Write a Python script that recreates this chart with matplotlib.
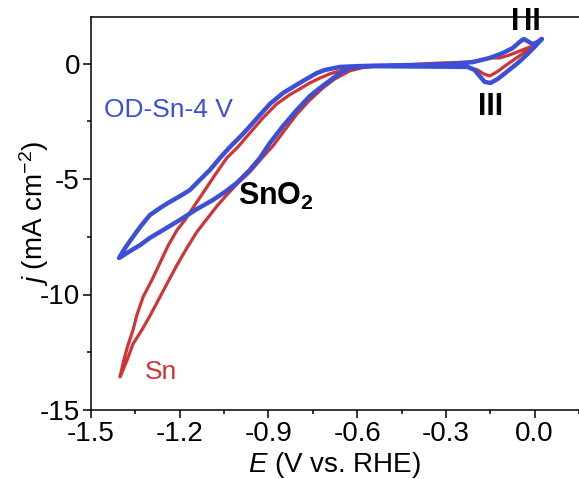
import matplotlib
matplotlib.use("Agg")
import matplotlib.pyplot as plt
from matplotlib.ticker import MultipleLocator, FormatStrFormatter

plt.rcParams['font.family'] = ['Liberation Sans', 'DejaVu Sans']
plt.rcParams['mathtext.fontset'] = 'custom'
plt.rcParams['mathtext.rm'] = 'Liberation Sans'
plt.rcParams['mathtext.it'] = 'Liberation Sans:italic'
plt.rcParams['mathtext.bf'] = 'Liberation Sans:bold'
plt.rcParams['axes.unicode_minus'] = False

# Sn (red) CV loop
sn_E = [0.007, -0.024, -0.057, -0.095, -0.128, -0.152, -0.172, -0.193, -0.226,
        -0.321, -0.45, -0.524, -0.608, -0.649, -0.693, -0.726, -0.760, -0.794,
        -0.828, -0.872, -0.919, -0.963, -1.003, -1.041, -1.081, -1.115, -1.149,
        -1.182, -1.209, -1.240, -1.267, -1.294, -1.324, -1.345, -1.358, -1.375,
        -1.389, -1.402,
        -1.392, -1.378, -1.368, -1.358, -1.345, -1.324, -1.301, -1.267, -1.240,
        -1.209, -1.176, -1.142, -1.108, -1.074, -1.041, -1.003, -0.963, -0.922,
        -0.885, -0.845, -0.804, -0.760, -0.716, -0.676, -0.625, -0.574, -0.524,
        -0.42, -0.321, -0.220, -0.169, -0.145, -0.118, -0.084, -0.051, -0.017,
        0.007]
sn_j = [0.8, 0.58, 0.28, -0.06, -0.37, -0.54, -0.45, -0.28, -0.15,
        -0.11, -0.11, -0.11, -0.19, -0.28, -0.45, -0.63, -0.84, -1.10,
        -1.35, -1.75, -2.36, -3.01, -3.61, -4.09, -4.83, -5.48, -6.13,
        -6.77, -7.21, -7.90, -8.64, -9.37, -10.11, -10.89, -11.54, -12.19,
        -12.84, -13.57,
        -13.27, -12.84, -12.49, -12.14, -11.88, -11.45, -10.93, -10.11, -9.46,
        -8.72, -7.99, -7.29, -6.73, -6.17, -5.69, -5.17, -4.70, -4.09,
        -3.57, -2.88, -2.19, -1.58, -1.06, -0.67, -0.32, -0.15, -0.11,
        -0.05, 0.02, 0.06, 0.19, 0.24, 0.24, 0.37, 0.54, 0.71,
        0.8]

# OD-Sn-4 V (blue) CV loop
od_E = [0.024, 0.003, -0.024, -0.057, -0.095, -0.125, -0.149, -0.169, -0.186,
        -0.203, -0.226, -0.287, -0.389, -0.50, -0.591, -0.659, -0.709, -0.736,
        -0.777, -0.811, -0.851, -0.895, -0.929, -0.953, -0.990, -1.030, -1.064,
        -1.098, -1.132, -1.166, -1.199, -1.240, -1.267, -1.301, -1.334, -1.368,
        -1.389, -1.405,
        -1.368, -1.334, -1.301, -1.250, -1.199, -1.142, -1.088, -1.047, -1.007,
        -0.963, -0.929, -0.895, -0.851, -0.804, -0.760, -0.726, -0.703, -0.676,
        -0.652, -0.625, -0.574, -0.524, -0.389, -0.287, -0.209, -0.152, -0.108,
        -0.074, -0.051, -0.037, -0.024, -0.007, 0.010, 0.024]
od_j = [1.06, 0.76, 0.41, 0.02, -0.37, -0.67, -0.84, -0.80, -0.54,
        -0.28, -0.15, -0.14, -0.13, -0.12, -0.11, -0.15, -0.28, -0.41,
        -0.71, -0.97, -1.28, -1.75, -2.23, -2.58, -3.10, -3.61, -4.09,
        -4.61, -5.04, -5.48, -5.74, -6.04, -6.26, -6.56, -7.08, -7.68,
        -8.07, -8.42,
        -8.12, -7.86, -7.55, -7.16, -6.77, -6.30, -5.91, -5.56, -5.17,
        -4.61, -4.09, -3.44, -2.71, -2.01, -1.41, -1.06, -0.84, -0.58,
        -0.37, -0.19, -0.11, -0.09, -0.06, -0.02, 0.06, 0.24, 0.45,
        0.67, 0.93, 1.06, 0.97, 0.84, 0.93, 1.06]

xticks = [-1.5, -1.2, -0.9, -0.6, -0.3, 0.0]
yticks = [0, -5, -10, -15]

red = '#d03434'
blue = '#3b4fd8'

fig = plt.figure(figsize=(5.79, 4.79), dpi=100)
ax = fig.add_axes([91/579, 69/479, 488/579, 392.7/479])

ax.plot(sn_E, sn_j, color=red, lw=2.3, solid_joinstyle='round', solid_capstyle='round')
ax.plot(od_E, od_j, color=blue, lw=3.2, solid_joinstyle='round', solid_capstyle='round')

ax.set_xlim(-1.5, 0.15)
ax.set_ylim(-15, 2)
ax.set_xticks(xticks)
ax.set_yticks(yticks)
ax.xaxis.set_minor_locator(MultipleLocator(0.15))
ax.yaxis.set_minor_locator(MultipleLocator(2.5))
ax.xaxis.set_major_formatter(FormatStrFormatter('%.1f'))
ax.tick_params(which='major', direction='out', length=6, width=1.1, labelsize=20, pad=2)
ax.tick_params(which='minor', direction='out', length=3, width=1.1)
for s in ['left', 'bottom', 'top']:
    ax.spines[s].set_linewidth(1.1)
ax.spines['right'].set_visible(False)

ax.set_xlabel(r'$\mathit{E}$ (V vs. RHE)', fontsize=20, labelpad=2)
ax.set_ylabel(r'$\mathit{j}$ (mA cm$^{-2}$)', fontsize=20, labelpad=-8)

ax.text(-1.455, -2.0, 'OD-Sn-4 V', color=blue, fontsize=19, ha='left', va='center')
ax.text(-1.318, -13.35, 'Sn', color=red, fontsize=19, ha='left', va='center')
ax.text(-1.003, -5.75, r'$\mathbf{SnO_2}$', color='black', fontsize=22, ha='left', va='center')
ax.text(-0.149, -1.9, 'III', color='black', fontsize=22, fontweight='bold', ha='center', va='center')
ax.text(-0.066, 1.8, 'I', color='black', fontsize=22, fontweight='bold', ha='center', va='center')
ax.text(-0.009, 1.8, 'II', color='black', fontsize=22, fontweight='bold', ha='center', va='center')

fig.savefig('out.png', dpi=100)
